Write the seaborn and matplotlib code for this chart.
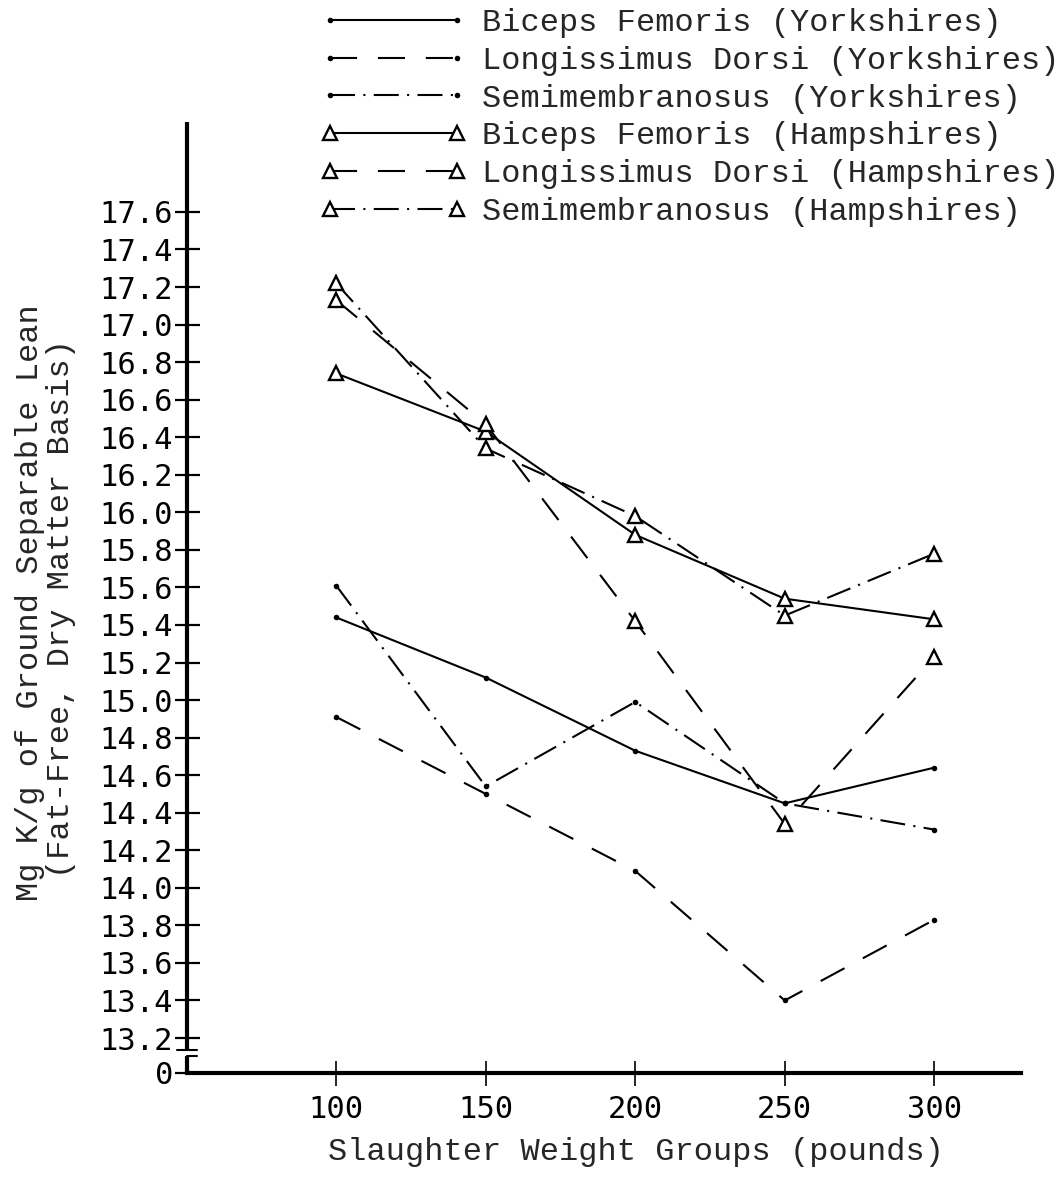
import matplotlib
matplotlib.use("Agg")
import matplotlib.pyplot as plt
import seaborn as sns
import pandas as pd

# ---- data ----
weights = [100, 150, 200, 250, 300]
bf_york = [15.44, 15.12, 14.73, 14.45, 14.64]
ld_york = [14.91, 14.50, 14.09, 13.40, 13.83]
sm_york = [15.61, 14.54, 14.99, 14.45, 14.31]
bf_hamp = [16.74, 16.43, 15.88, 15.54, 15.43]
ld_hamp = [17.13, 16.47, 15.42, 14.34, 15.23]
sm_hamp = [17.22, 16.34, 15.98, 15.45, 15.78]

series_names = [
    "Biceps Femoris (Yorkshires)",
    "Longissimus Dorsi (Yorkshires)",
    "Semimembranosus (Yorkshires)",
    "Biceps Femoris (Hampshires)",
    "Longissimus Dorsi (Hampshires)",
    "Semimembranosus (Hampshires)",
]
series_values = [bf_york, ld_york, sm_york, bf_hamp, ld_hamp, sm_hamp]

x_ticks = [100, 150, 200, 250, 300]
y_ticks = [13.2, 13.4, 13.6, 13.8, 14.0, 14.2, 14.4, 14.6, 14.8, 15.0, 15.2,
           15.4, 15.6, 15.8, 16.0, 16.2, 16.4, 16.6, 16.8, 17.0, 17.2, 17.4, 17.6]
y_tick_labels = ["13.2", "13.4", "13.6", "13.8", "14.0", "14.2", "14.4", "14.6",
                 "14.8", "15.0", "15.2", "15.4", "15.6", "15.8", "16.0", "16.2",
                 "16.4", "16.6", "16.8", "17.0", "17.2", "17.4", "17.6"]
zero_label = "0"
x_label = "Slaughter Weight Groups (pounds)"
y_label_1 = "Mg K/g of Ground Separable Lean"
y_label_2 = "(Fat-Free, Dry Matter Basis)"

# ---- styles ----
solid = "-"
dashed = (0, (13, 10))
dashdot = (0, (12, 4, 1, 4))
line_styles = [solid, dashed, dashdot, solid, dashed, dashdot]

sns.set_style("white")
plt.rcParams["font.family"] = ["Liberation Mono", "DejaVu Sans"]

W, H = 1062, 1188
fig = plt.figure(figsize=(W / 100, H / 100), dpi=100)
ax_left, ax_right, ax_top, ax_bottom = 187, 1021, 122, 1073
ax = fig.add_axes([ax_left / W, 1 - ax_bottom / H,
                   (ax_right - ax_left) / W, (ax_bottom - ax_top) / H])

y_bottom = 13.0136
y_top = 18.079
ax.set_xlim(50.1, 329)
ax.set_ylim(y_bottom, y_top)

frames = []
for name, vals in zip(series_names, series_values):
    frames.append(pd.DataFrame({"weight": weights, "value": vals, "series": name}))
df = pd.concat(frames, ignore_index=True)

handles = []
for i, (name, ls) in enumerate(zip(series_names, line_styles)):
    sub = df[df["series"] == name]
    if "Hampshires" in name:
        mk = dict(marker="^", markersize=10, markerfacecolor="white",
                  markeredgecolor="black", markeredgewidth=1.7)
    else:
        mk = dict(marker="o", markersize=4, markerfacecolor="black",
                  markeredgecolor="black", markeredgewidth=0)
    sns.lineplot(data=sub, x="weight", y="value", ax=ax, color="black",
                 linestyle=ls, linewidth=1.5, sort=False, errorbar=None,
                 **mk)
    line = ax.lines[-1]
    line.set_label(name)
    handles.append(line)

# ---- axes decoration ----
for s in ["top", "right", "left"]:
    ax.spines[s].set_visible(False)
ax.spines["bottom"].set_linewidth(3)
ax.spines["bottom"].set_color("black")

# left spine with a break between 13.2 and 0
ytr = ax.get_yaxis_transform()
ax.plot([0, 0], [13.136, y_top], transform=ytr, color="black", lw=3,
        clip_on=False, solid_capstyle="butt")
ax.plot([0, 0], [y_bottom, 13.104], transform=ytr, color="black", lw=3,
        clip_on=False, solid_capstyle="butt")
ax.plot([-0.012, 0.012], [13.136, 13.136], transform=ytr, color="black",
        lw=1.5, clip_on=False)
ax.plot([0, 0.012], [13.104, 13.104], transform=ytr, color="black",
        lw=1.5, clip_on=False)

ax.set_xticks(x_ticks)
ax.set_xticklabels([str(v) for v in x_ticks])
ax.set_yticks([y_bottom] + y_ticks)
ax.set_yticklabels([zero_label] + y_tick_labels)
ax.yaxis.get_major_ticks()[0].tick1line.set_visible(False)

ax.tick_params(axis="y", direction="inout", length=18, width=1.6, pad=1,
               labelsize=22, colors="black", left=True)
ax.tick_params(axis="x", direction="inout", length=18, width=1.2, pad=7,
               labelsize=22, colors="black", bottom=True)
for lab in ax.get_yticklabels() + ax.get_xticklabels():
    lab.set_fontfamily(["DejaVu Sans Mono", "DejaVu Sans"])

ax.set_xlabel("")
ax.set_ylabel("")
fig.text(636 / W, 1 - 1152 / H, x_label, ha="center", va="center", fontsize=23)
fig.text(30 / W, 1 - 603 / H, y_label_1, ha="center", va="center",
         rotation=90, fontsize=23)
fig.text(61 / W, 1 - 609 / H, y_label_2, ha="center", va="center",
         rotation=90, fontsize=23)

leg = ax.legend(handles=handles, labels=series_names, loc="upper left",
                bbox_to_anchor=(320 / W, 1 - 8 / H),
                bbox_transform=fig.transFigure, frameon=False, fontsize=23,
                handlelength=4.6, handletextpad=0.48, labelspacing=0.245,
                borderpad=0, borderaxespad=0, numpoints=2)

fig.savefig("out.png", dpi=100)
